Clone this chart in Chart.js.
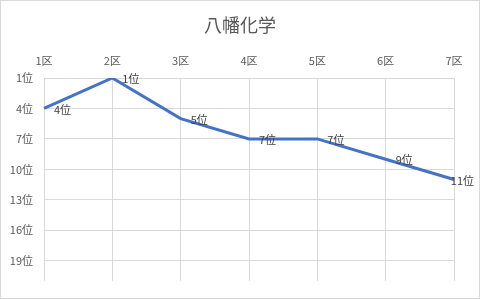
<!DOCTYPE html>
<html lang="ja">
<head>
<meta charset="utf-8">
<title>八幡化学</title>
<script src="https://cdn.jsdelivr.net/npm/chart.js@4/dist/chart.umd.min.js"></script>
<style>
  html, body { margin: 0; padding: 0; background: #fff; }
  canvas { display: block; }
</style>
</head>
<body>
<canvas id="rankChart" width="480" height="299"></canvas>
<script>
// Chart data
const chartTitle = "八幡化学";
const districts = ["1区", "2区", "3区", "4区", "5区", "6区", "7区"];
const ranks = [4, 1, 5, 7, 7, 9, 11];
const rankTicks = [1, 4, 7, 10, 13, 16, 19];
const rankMin = 1;
const rankMax = 21;

const FONT = "'Noto Sans CJK JP', 'Noto Sans', sans-serif";

// White background, outer frame and the title (centred on the whole canvas)
const frame = {
  id: "frame",
  beforeDraw(chart) {
    const ctx = chart.ctx;
    ctx.save();
    ctx.fillStyle = "#ffffff";
    ctx.fillRect(0, 0, chart.width, chart.height);
    ctx.strokeStyle = "#d9d9d9";
    ctx.lineWidth = 1;
    ctx.strokeRect(0.5, 0.5, chart.width - 1, chart.height - 1);

    ctx.font = "18px " + FONT;
    ctx.fillStyle = "#595959";
    ctx.textAlign = "center";
    ctx.textBaseline = "middle";
    ctx.fillText(chartTitle, chart.width / 2, 25);
    ctx.restore();
  },
};

// "N位" labels to the right of each point
const pointLabels = {
  id: "pointLabels",
  afterDatasetsDraw(chart) {
    const ctx = chart.ctx;
    const meta = chart.getDatasetMeta(0);
    ctx.save();
    ctx.font = "11px " + FONT;
    ctx.fillStyle = "#404040";
    ctx.textAlign = "left";
    ctx.textBaseline = "middle";
    meta.data.forEach((pt, i) => {
      const text = ranks[i] + "位";
      const w = ctx.measureText(text).width;
      let x = pt.x + 10;
      if (x + w > chart.width - 6) x = chart.width - 6 - w;
      ctx.fillText(text, x, pt.y + 1);
    });
    ctx.restore();
  },
};

const ctx = document.getElementById("rankChart").getContext("2d");
new Chart(ctx, {
  type: "line",
  data: {
    labels: districts,
    datasets: [
      {
        data: ranks,
        borderColor: "#4472c4",
        borderWidth: 3,
        pointRadius: 0,
        tension: 0,
        fill: false,
      },
    ],
  },
  options: {
    responsive: false,
    animation: false,
    layout: {
      padding: { left: 0, right: 26, top: 54, bottom: 18 },
    },
    plugins: {
      legend: { display: false },
      tooltip: { enabled: false },
      title: { display: false },
    },
    scales: {
      x: {
        position: "top",
        offset: false,
        grid: { color: "#d9d9d9", drawTicks: false },
        border: { display: false },
        ticks: {
          color: "#595959",
          font: { family: FONT, size: 11 },
          padding: 11,
          maxRotation: 0,
        },
        afterFit: (s) => { s.height = 24; },
      },
      y: {
        reverse: true,
        min: rankMin,
        max: rankMax,
        grid: { color: "#d9d9d9", drawTicks: false },
        border: { display: false },
        ticks: {
          color: "#595959",
          font: { family: FONT, size: 11 },
          padding: 11,
          callback: (v) => v + "位",
        },
        afterBuildTicks: (s) => {
          s.ticks = rankTicks.map((v) => ({ value: v }));
        },
        afterFit: (s) => { s.width = 44; },
      },
    },
  },
  plugins: [frame, pointLabels],
});
</script>
</body>
</html>
